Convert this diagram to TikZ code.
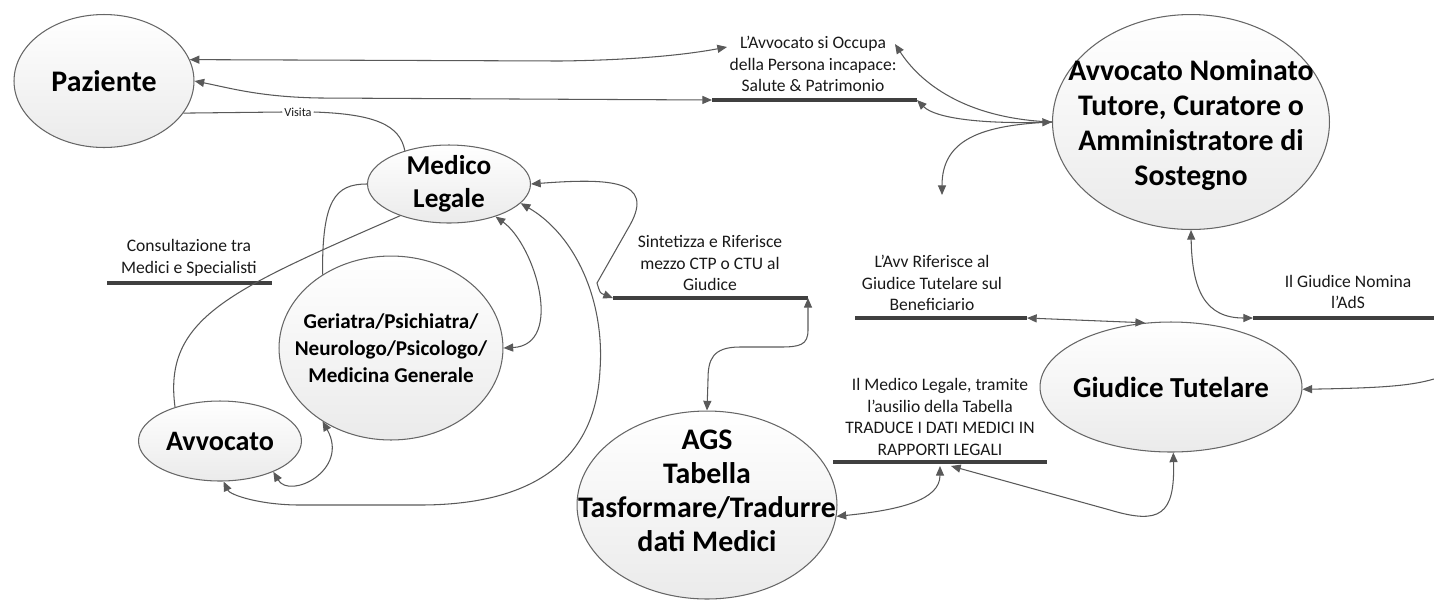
\documentclass[tikz,border=0pt]{standalone}
\usepackage{fontspec}
\setmainfont{Carlito}
\usetikzlibrary{shapes.geometric,arrows.meta}
\tikzset{
  bubble/.style={ellipse, draw=black!60, line width=0.6pt, top color=white, bottom color=black!8, inner sep=0pt},
  inbubble/.style={align=center, inner sep=0pt, text=black},
  tag/.style={align=center, inner sep=0pt, font=\fontsize{10}{12.2}\selectfont, text=black!90},
  link/.style={draw=black!65, line width=0.6pt, >={Triangle[length=5.5pt,width=4.6pt]}},
  bar/.style={draw=black!75, line width=2.8pt},
}
\begin{document}
\begin{tikzpicture}[x=0.02cm, y=-0.02cm]
\useasboundingbox (0,0) rectangle (1434,603);
% ellipses
\node[bubble, minimum width=3.6cm, minimum height=2.66cm] (pat) at (104,81) {};
\node[bubble, minimum width=3.26cm, minimum height=1.56cm] (medleg) at (449,184) {};
\node[bubble, minimum width=4.48cm, minimum height=3.68cm] (spec) at (391,348) {};
\node[bubble, minimum width=3.26cm, minimum height=1.6cm] (avv) at (220,441) {};
\node[bubble, minimum width=5.2cm, minimum height=3.76cm] (ags) at (707,505) {};
\node[bubble, minimum width=5.24cm, minimum height=2.6cm] (giud) at (1171,387) {};
\node[bubble, minimum width=5.54cm, minimum height=4.3cm] (tutor) at (1191,122) {};
\node[inbubble, font=\bfseries\fontsize{17}{20}\selectfont] (patlbl) at (pat) {Paziente};
\node[inbubble, font=\bfseries\fontsize{15.5}{18.8}\selectfont] (medleglbl) at (medleg) {Medico\\Legale};
\node[inbubble, font=\bfseries\fontsize{12}{15.4}\selectfont] (speclbl) at (spec) {Geriatra/Psichiatra/\\Neurologo/Psicologo/\\Medicina Generale};
\node[inbubble, font=\bfseries\fontsize{16}{19}\selectfont] (avvlbl) at (avv) {Avvocato};
\node[inbubble, font=\bfseries\fontsize{17}{19.3}\selectfont] (agslbl) at (707,491) {AGS\\Tabella\\Tasformare/Tradurre\\dati Medici};
\node[inbubble, font=\bfseries\fontsize{16.5}{19}\selectfont] (giudlbl) at (giud) {Giudice Tutelare};
\node[inbubble, font=\bfseries\fontsize{17}{19.9}\selectfont] (tutorlbl) at (1191,125) {Avvocato Nominato\\Tutore, Curatore o\\Amministratore di\\Sostegno};
% labels
\node[tag] (occtxt) at (813,64) {L’Avvocato si Occupa\\della Persona incapace:\\Salute \& Patrimonio};
\node[tag] (sinttxt) at (710,263) {Sintetizza e Riferisce\\mezzo CTP o CTU al\\Giudice};
\node[tag] (constxt) at (189,258) {Consultazione tra\\Medici e Specialisti};
\node[tag] (riftxt) at (932,283) {L’Avv Riferisce al\\Giudice Tutelare sul\\Beneficiario};
\node[tag] (nomtxt) at (1348,292) {Il Giudice Nomina\\l’AdS};
\node[tag] (tradtxt) at (940,417) {Il Medico Legale, tramite\\l’ausilio della Tabella\\TRADUCE I DATI MEDICI IN\\RAPPORTI LEGALI};
\node[tag, font=\fontsize{7}{8}\selectfont, inner sep=1pt] (visita) at (298,112) {Visita};
% bars
\foreach \n/\a/\b/\y in {occ/712/917/100, sint/613/808/298, cons/107/272/283, rif/855/1027/318, nom/1253/1434/318, trad/833/1047/462}{
  \coordinate (\n L) at (\a,\y);
  \coordinate (\n R) at (\b,\y);
  \draw[bar] (\n L) -- (\n R);
}
\coordinate (occin) at (727,47);
\coordinate (occtop) at (895,44);
\coordinate (down) at (942,195);
\coordinate (edge) at (1434,379);
\coordinate (tradA) at (940,466);
\coordinate (tradB) at (951,466);
% connectors
\draw[link,<->] (pat.14) -- (560,61) .. controls (640,60) and (690,54) .. (occin);
\draw[link,<->] (pat.0) .. controls (230,88) and (260,97) .. (320,98) -- (occL);
\draw[link,<-] (occtop) .. controls (912,70) and (950,118) .. (tutor.west);
\draw[link,<->] (occR) .. controls (935,118) and (980,124) .. (tutor.west);
\draw[link,->] (tutor.west) .. controls (980,125) and (942,140) .. (down);
\draw[link] (pat.-22) -- (visita.west);
\draw[link] (visita.east) .. controls (375,114) and (400,125) .. (medleg.143);
\draw[link] (medleg.180) .. controls (335,184) and (322,200) .. (spec.133);
\draw[link] (medleg.213) .. controls (230,290) and (163,318) .. (avv.143);
\draw[link,<->] (medleg.-35) .. controls (535,245) and (565,345) .. (spec.0);
\draw[link,<->] (medleg.0) .. controls (610,178) and (655,180) .. (630,225) -- (597,283) .. controls (600,293) .. (sintL);
\draw[link,<->] (medleg.-15) .. controls (575,235) and (605,300) .. (600,370) .. controls (595,470) and (520,505) .. (420,505) -- (300,505) .. controls (260,505) and (230,495) .. (avv.-85);
\draw[link,<->] (avv.-30) .. controls (290,500) and (350,470) .. (spec.-133);
\draw[link,<->] (sintR) -- (808,330) .. controls (808,345) and (800,347) .. (780,347) -- (740,347) .. controls (712,347) and (708,360) .. (708,380) -- (ags.north);
\draw[link,<->] (ags.-5) .. controls (900,510) and (940,500) .. (tradA);
\draw[link,<->] (tradB) -- (1110,510) .. controls (1160,525) and (1175,515) .. (giud.-88);
\draw[link,<->] (rifR) -- (giud.112);
\draw[link,<->] (tutor.-90) .. controls (1192,290) and (1205,318) .. (nomL);
\draw[link,->] (edge) .. controls (1410,386) and (1380,388) .. (giud.-1);
\end{tikzpicture}
\end{document}
